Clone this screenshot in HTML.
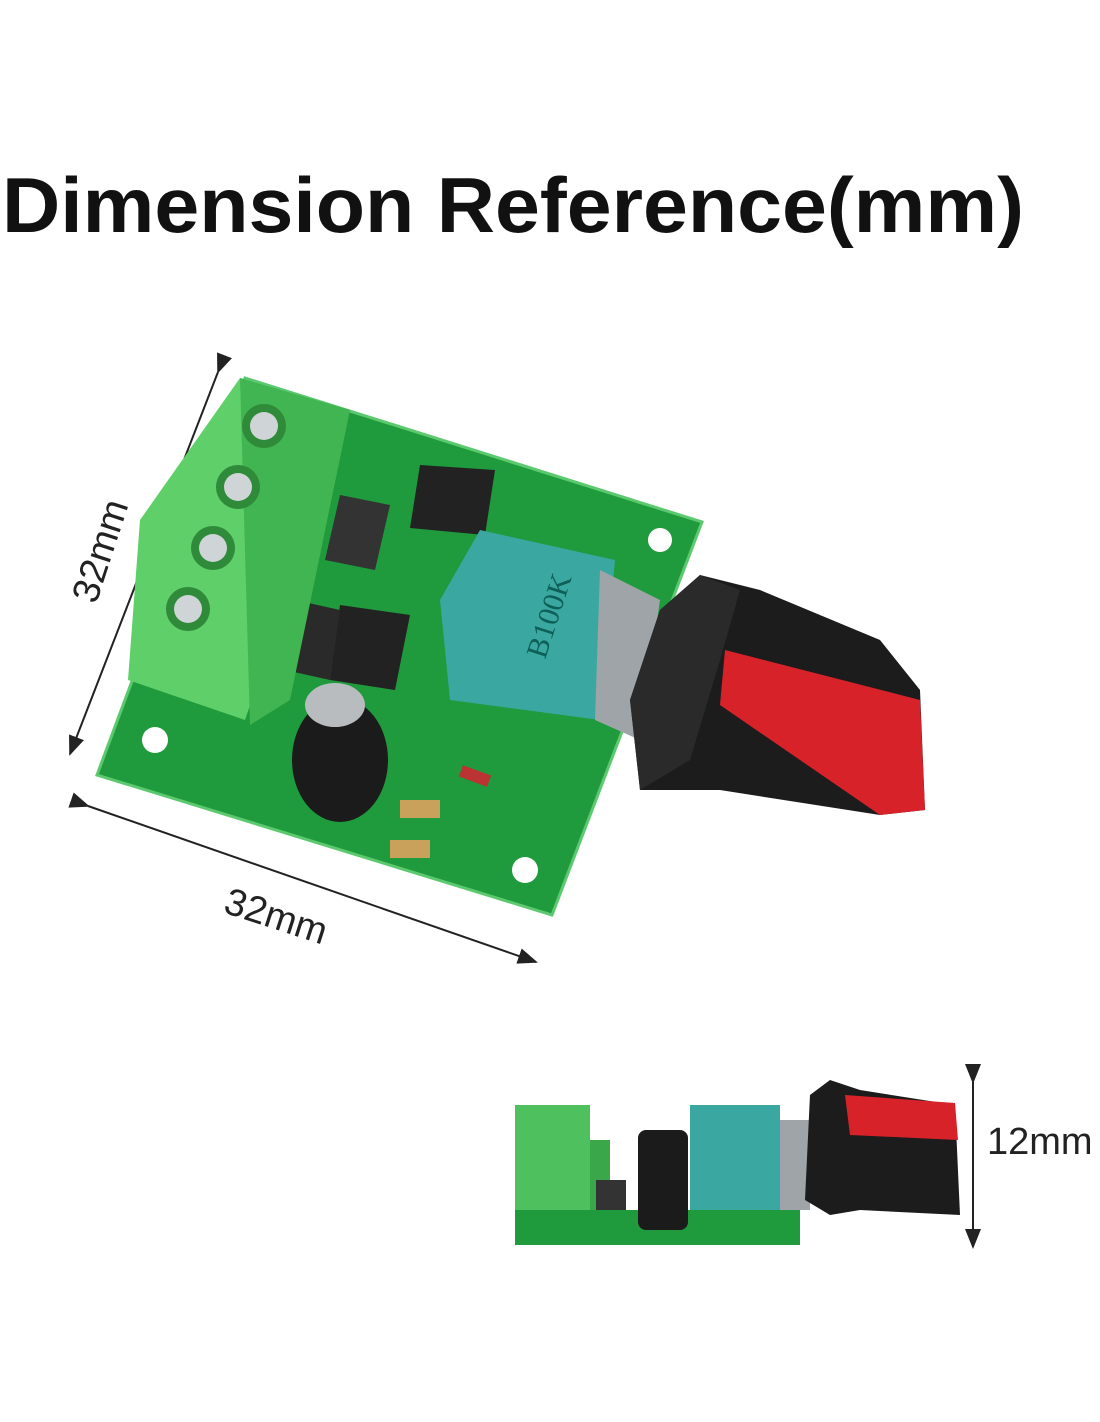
<!DOCTYPE html>
<html><head><meta charset="utf-8"><style>
html,body{margin:0;padding:0;background:#fff;}
svg{display:block}
</style></head><body>
<svg width="1100" height="1422" viewBox="0 0 1100 1422" xmlns="http://www.w3.org/2000/svg" font-family="Liberation Sans, sans-serif">
<defs>
<marker id="ar" markerWidth="10" markerHeight="10" refX="9" refY="5" orient="auto"><path d="M0,1 L10,5 L0,9 z" fill="#222"/></marker>
</defs>
<text x="2" y="232" font-size="78" font-weight="bold" fill="#111" textLength="1022" lengthAdjust="spacingAndGlyphs">Dimension Reference(mm)</text>

<line x1="218" y1="372" x2="70" y2="754" stroke="#222" stroke-width="2" marker-start="url(#ar)" marker-end="url(#ar)"/>
<text x="0" y="0" font-size="38" fill="#222" transform="translate(96,605) rotate(-72)">32mm</text>
<line x1="88" y1="806" x2="536" y2="962" stroke="#222" stroke-width="2" marker-start="url(#ar)" marker-end="url(#ar)"/>
<text x="0" y="0" font-size="38" fill="#222" transform="translate(222,912) rotate(18)">32mm</text>

<polygon points="245,378 702,522 552,915 97,775" fill="#1f9a3c"/>
<polygon points="245,378 702,522 552,915 97,775" fill="none" stroke="#5cc96f" stroke-width="3"/>
<circle cx="660" cy="540" r="12" fill="#fff"/>
<circle cx="155" cy="740" r="13" fill="#fff"/>
<circle cx="525" cy="870" r="13" fill="#fff"/>
<polygon points="420,465 495,470 485,535 410,528" fill="#222"/>
<polygon points="340,605 410,615 395,690 330,680" fill="#222"/>
<polygon points="340,495 390,505 375,570 325,560" fill="#333"/>
<polygon points="295,600 340,610 330,680 285,670" fill="#2a2a2a"/>
<polygon points="240,378 350,410 320,500 245,720 128,680 140,520" fill="#5fcf6a"/>
<polygon points="240,378 350,410 290,700 250,725" fill="#41b551"/>
<circle cx="264" cy="426" r="22" fill="#2f8a3a"/><circle cx="264" cy="426" r="14" fill="#cfd4d6"/>
<circle cx="238" cy="487" r="22" fill="#2f8a3a"/><circle cx="238" cy="487" r="14" fill="#cfd4d6"/>
<circle cx="213" cy="548" r="22" fill="#2f8a3a"/><circle cx="213" cy="548" r="14" fill="#cfd4d6"/>
<circle cx="188" cy="609" r="22" fill="#2f8a3a"/><circle cx="188" cy="609" r="14" fill="#cfd4d6"/>
<ellipse cx="340" cy="760" rx="48" ry="62" fill="#1b1b1b"/>
<ellipse cx="335" cy="705" rx="30" ry="22" fill="#b8bcbf"/>
<rect x="400" y="800" width="40" height="18" fill="#c9a15a"/>
<rect x="390" y="840" width="40" height="18" fill="#c9a15a"/>
<rect x="460" y="770" width="30" height="12" fill="#b33" transform="rotate(20 475 776)"/>
<polygon points="480,530 615,560 600,720 450,700 440,600" fill="#3aa8a0"/>
<polygon points="600,570 660,600 640,740 595,720" fill="#9fa4a8"/>
<text x="0" y="0" font-size="30" fill="#0d5f58" font-family="Liberation Serif, serif" transform="translate(545,660) rotate(-72)">B100K</text>
<polygon points="660,610 700,575 760,590 880,640 920,690 925,810 880,815 720,790 640,790 630,700" fill="#1c1c1c"/>
<polygon points="725,650 920,700 925,810 880,815 720,705" fill="#d8222a"/>
<polygon points="660,610 700,575 740,590 720,660 690,760 640,790 630,700" fill="#2a2a2a"/>

<rect x="515" y="1210" width="285" height="35" fill="#1f9a3c"/>
<rect x="515" y="1105" width="75" height="105" fill="#4ec05e"/>
<rect x="590" y="1140" width="20" height="70" fill="#3aa84a"/>
<rect x="596" y="1180" width="30" height="30" fill="#333"/>
<rect x="638" y="1130" width="50" height="100" rx="8" fill="#1b1b1b"/>
<rect x="690" y="1105" width="90" height="105" fill="#3aa8a0"/>
<rect x="780" y="1120" width="30" height="90" fill="#9fa4a8"/>
<polygon points="810,1095 830,1080 860,1090 955,1105 960,1215 860,1210 830,1215 805,1200" fill="#1c1c1c"/>
<polygon points="845,1095 955,1103 958,1140 850,1135" fill="#d8222a"/>
<line x1="973" y1="1082" x2="973" y2="1247" stroke="#222" stroke-width="2" marker-start="url(#ar)" marker-end="url(#ar)"/>
<text x="987" y="1154" font-size="38" fill="#222">12mm</text>
</svg>
</body></html>
